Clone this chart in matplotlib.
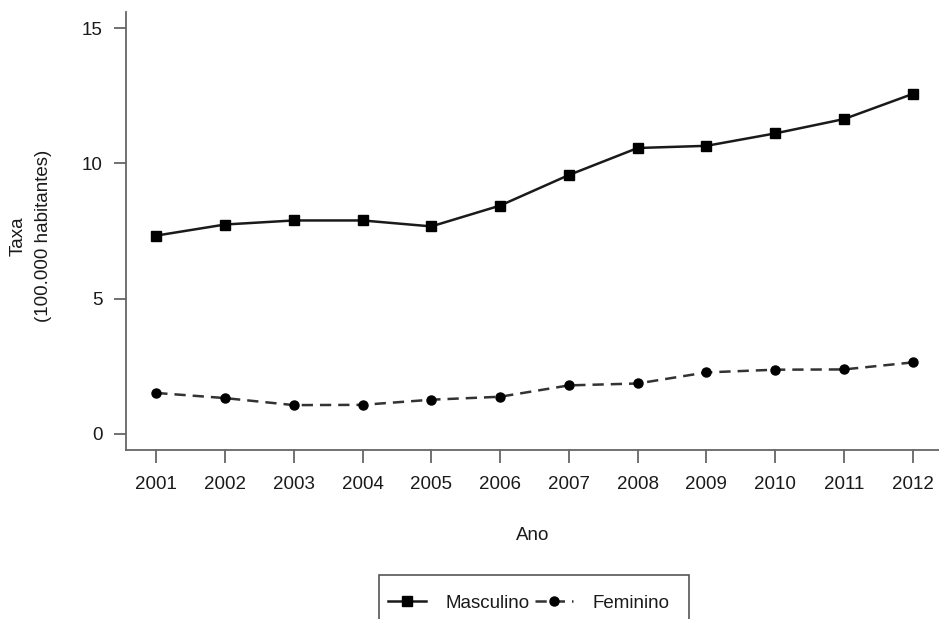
import numpy as np
import matplotlib

matplotlib.use('Agg')
import matplotlib.pyplot as plt
from matplotlib.patches import Rectangle

plt.rcParams['font.family'] = ['Liberation Sans', 'DejaVu Sans']

# dados
anos = [2001, 2002, 2003, 2004, 2005, 2006, 2007, 2008, 2009, 2010, 2011, 2012]
masculino = [7.33, 7.74, 7.89, 7.89, 7.67, 8.44, 9.57, 10.57, 10.65, 11.11, 11.64, 12.57]
feminino = [1.51, 1.32, 1.06, 1.07, 1.26, 1.37, 1.79, 1.86, 2.27, 2.37, 2.38, 2.64]
y_ticks = [0, 5, 10, 15]

W, H = 939, 619
FS = 13.5
TXT = '#1a1a1a'

fig = plt.figure(figsize=(W / 100, H / 100), dpi=100)
# eixo estilo R (bty="l"), cortado na direita
ax = fig.add_axes([126 / W, 1 - 450 / H, (943 - 126) / W, (450 - 12) / H])

ax.plot(anos, masculino, color='#1a1a1a', lw=1.8, marker='s', ms=7.5,
        mfc='black', mec='black', label='Masculino')
ax.plot(anos, feminino, color='#333333', lw=1.8, marker='o', ms=6.5,
        mfc='black', mec='black', dashes=(4.5, 2.8), label='Feminino')

pad_x = 0.04 * (anos[-1] - anos[0])
ax.set_xlim(anos[0] - pad_x, anos[-1] + pad_x)
ax.set_ylim(-0.6, 15.6)
ax.set_xticks(anos)
ax.set_yticks(y_ticks)

for s in ['top', 'right']:
    ax.spines[s].set_visible(False)
for s in ['left', 'bottom']:
    ax.spines[s].set_color('#666666')
    ax.spines[s].set_linewidth(1.3)
ax.tick_params(colors='#666666', length=9, width=1.3, labelsize=FS,
               labelcolor=TXT)
ax.tick_params(axis='x', pad=10)
ax.tick_params(axis='y', pad=8)

fig.text(533 / W, 1 - 535 / H, 'Ano', fontsize=FS, color=TXT,
         ha='center', va='center')
fig.text(31 / W, 1 - 236 / H, 'Taxa\n(100.000 habitantes)', fontsize=FS,
         color=TXT, ha='center', va='center', rotation=90, linespacing=1.6)

# legenda embaixo, caixa cortada pela borda
fig.patches.append(Rectangle((379 / W, 1 - 660 / H), (689 - 379) / W, 85 / H,
                             transform=fig.transFigure, fill=False,
                             edgecolor='#555555', lw=1.2))
fig.legend(loc='center', bbox_to_anchor=(529 / W, 1 - 603 / H), ncol=2,
           frameon=False, fontsize=FS, handlelength=2.0, handletextpad=1.05,
           columnspacing=0.3, labelcolor=TXT, borderpad=0, borderaxespad=0)

fig.savefig('out.png', dpi=100)
